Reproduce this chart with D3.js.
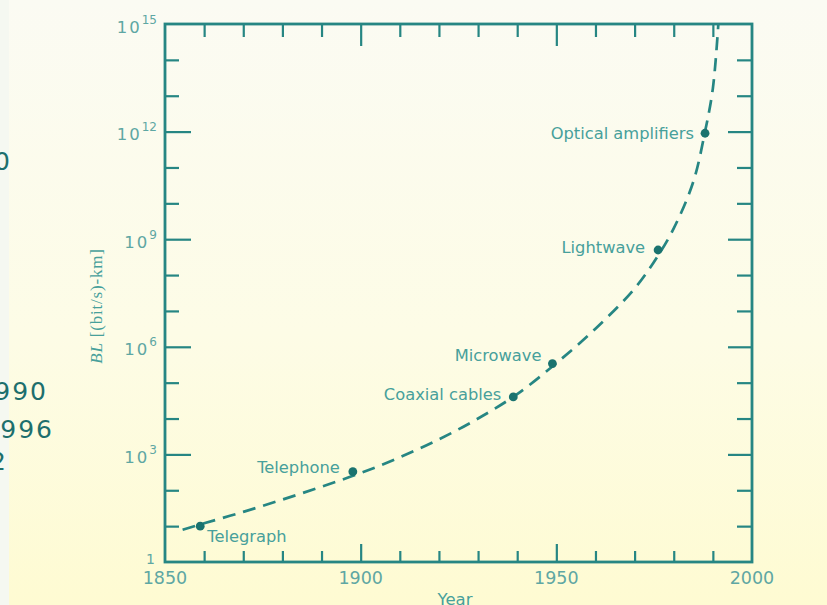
<!DOCTYPE html>
<html>
<head>
<meta charset="utf-8">
<script src="https://cdn.jsdelivr.net/npm/d3@7"></script>
<style>
  html, body { margin: 0; padding: 0; }
  body { width: 827px; height: 605px; overflow: hidden; }
  svg { display: block; }
</style>
</head>
<body>
<svg id="chart" width="827" height="605"></svg>
<script>
// milestones (year, BL in (bit/s)-km)
const techNames = ["Telegraph", "Telephone", "Coaxial cables", "Microwave", "Lightwave", "Optical amplifiers"];
const techYears = [1859, 1898, 1939, 1949, 1976, 1988];
const techBL = [10, 330, 4e4, 3.4e5, 5e8, 9e11];

// dashed trend curve
const trendYears = [1854.5, 1860, 1870, 1880, 1890, 1900, 1910, 1920, 1930, 1940, 1950, 1960, 1970, 1976, 1980, 1985, 1988, 1990, 1991.4];
const trendBL = [7.9, 12, 25, 55, 126, 302, 832, 2630, 1e4, 4.8e4, 3.5e5, 3.2e6, 4.2e7, 3.5e8, 2e9, 4e10, 1e12, 1.6e13, 1e15];

// axis labels
const xLabels = [1850, 1900, 1950, 2000];
const yLabelExp = [3, 6, 9, 12, 15];

// bits of slide text cut off on the left
const sideText = ["0", "990", "996", "2"];

const teal = "#268683";
const tealText = "#47a09b";

const svg = d3.select("#chart");

// background
const defs = svg.append("defs");
const grad = defs.append("linearGradient").attr("id", "bg")
  .attr("x1", 0).attr("y1", 0).attr("x2", 0).attr("y2", 1);
grad.append("stop").attr("offset", "0%").attr("stop-color", "#fbfbf3");
grad.append("stop").attr("offset", "55%").attr("stop-color", "#fdfce6");
grad.append("stop").attr("offset", "100%").attr("stop-color", "#fefbd2");
svg.append("rect").attr("width", 827).attr("height", 605).attr("fill", "url(#bg)");
svg.append("rect").attr("width", 9).attr("height", 605).attr("fill", "#f5f8f1");

let pLeft = 165, pRight = 752, pTop = 24, pBottom = 562;

let x = d3.scaleLinear().domain([1850, 2000]).range([pLeft, pRight]);
let y = d3.scaleLog().domain([1, 1e15]).range([pBottom, pTop]);

defs.append("clipPath").attr("id", "plot")
  .append("rect").attr("x", pLeft).attr("y", pTop).attr("width", pRight - pLeft).attr("height", pBottom - pTop);

// ticks (inward on all four sides)
const minorYears = d3.range(1860, 2000, 10).filter(d => d % 50 != 0);
const majorYears = [1900, 1950];
const decades = d3.range(1, 15).map(e => Math.pow(10, e)).filter((d, i) => (i + 1) % 3 != 0);
const majorDecades = [1e3, 1e6, 1e9, 1e12];

function tickStyle(g) {
  g.select(".domain").remove();
  g.selectAll(".tick line").attr("stroke", teal).attr("stroke-width", 2.2);
}

function addAxis(axis, tr) {
  svg.append("g").attr("transform", tr).call(axis.tickFormat("")).call(tickStyle);
}

addAxis(d3.axisBottom(x).tickValues(minorYears).tickSize(-11), `translate(0,${pBottom})`);
addAxis(d3.axisBottom(x).tickValues(majorYears).tickSize(-18), `translate(0,${pBottom})`);
addAxis(d3.axisTop(x).tickValues(minorYears).tickSize(-13), `translate(0,${pTop})`);
addAxis(d3.axisTop(x).tickValues(majorYears).tickSize(-22), `translate(0,${pTop})`);
addAxis(d3.axisLeft(y).tickValues(decades).tickSize(-14), `translate(${pLeft},0)`);
addAxis(d3.axisLeft(y).tickValues(majorDecades).tickSize(-26), `translate(${pLeft},0)`);
addAxis(d3.axisRight(y).tickValues(decades).tickSize(-15), `translate(${pRight},0)`);
addAxis(d3.axisRight(y).tickValues(majorDecades).tickSize(-24), `translate(${pRight},0)`);

// frame
svg.append("rect")
  .attr("x", pLeft).attr("y", pTop)
  .attr("width", pRight - pLeft).attr("height", pBottom - pTop)
  .attr("fill", "none").attr("stroke", teal).attr("stroke-width", 2.8);

// x labels
svg.append("g").selectAll("text").data(xLabels).join("text")
  .attr("x", d => x(d)).attr("y", pBottom + 22)
  .attr("text-anchor", "middle")
  .attr("font-family", "DejaVu Sans").attr("font-size", 17.5)
  .attr("fill", "#5ea7a3")
  .text(d => d);

// y labels
const yl = svg.append("g").selectAll("text").data(yLabelExp).join("text")
  .attr("x", 157).attr("y", d => y(Math.pow(10, d)) + 8.5)
  .attr("text-anchor", "end")
  .attr("font-family", "DejaVu Sans")
  .attr("fill", "#5ea7a3");
yl.append("tspan").attr("font-size", 16.5).attr("letter-spacing", 2).text("10");
yl.append("tspan").attr("font-size", 12).attr("dy", -9).text(d => d);

svg.append("text")
  .attr("x", 155).attr("y", pBottom + 2)
  .attr("text-anchor", "end")
  .attr("font-family", "DejaVu Sans").attr("font-size", 14)
  .attr("fill", "#5ea7a3")
  .text("1");

// axis titles
const yt = svg.append("text")
  .attr("transform", "translate(102,306) rotate(-90)")
  .attr("text-anchor", "middle")
  .attr("font-family", "Liberation Serif").attr("font-size", 17)
  .attr("letter-spacing", 0.8)
  .attr("fill", tealText);
yt.append("tspan").attr("font-style", "italic").text("BL");
yt.append("tspan").text(" [(bit/s)-km]");

svg.append("text")
  .attr("x", 455).attr("y", 605)
  .attr("text-anchor", "middle")
  .attr("font-family", "DejaVu Sans").attr("font-size", 16.5)
  .attr("fill", tealText)
  .text("Year");

// dashed trend
const trend = trendYears.map((d, i) => [d, trendBL[i]]);
const line = d3.line().x(d => x(d[0])).y(d => y(d[1])).curve(d3.curveCatmullRom.alpha(0.5));
svg.append("path")
  .datum(trend)
  .attr("clip-path", "url(#plot)")
  .attr("d", line)
  .attr("fill", "none")
  .attr("stroke", teal)
  .attr("stroke-width", 2.7)
  .attr("stroke-dasharray", "13,8");

// milestone dots + labels
const offsets = {
  "Telegraph": [7, 16, "start"],
  "Telephone": [-13, 1, "end"],
  "Coaxial cables": [-12, 3, "end"],
  "Microwave": [-11, -3, "end"],
  "Lightwave": [-13, 3, "end"],
  "Optical amplifiers": [-11, 6, "end"]
};

const tech = techNames.map((n, i) => ({ name: n, year: techYears[i], bl: techBL[i] }));

svg.append("g").selectAll("circle").data(tech).join("circle")
  .attr("cx", d => x(d.year)).attr("cy", d => y(d.bl))
  .attr("r", 4.4)
  .attr("fill", "#1a736f");

svg.append("g").selectAll("text").data(tech).join("text")
  .attr("x", d => x(d.year) + offsets[d.name][0])
  .attr("y", d => y(d.bl) + offsets[d.name][1])
  .attr("text-anchor", d => offsets[d.name][2])
  .attr("font-family", "DejaVu Sans").attr("font-size", 16.3)
  .attr("fill", tealText)
  .text(d => d.name);

// slide text fragments at the left edge
const sideX = [12, 48, 54, 8];
const sideY = [170, 400, 438, 470];
svg.append("g").selectAll("text").data(sideText).join("text")
  .attr("x", (d, i) => sideX[i]).attr("y", (d, i) => sideY[i])
  .attr("text-anchor", "end")
  .attr("font-family", "DejaVu Sans").attr("font-size", 25)
  .attr("letter-spacing", 2)
  .attr("fill", "#1d6f6d")
  .text(d => d);
</script>
</body>
</html>
